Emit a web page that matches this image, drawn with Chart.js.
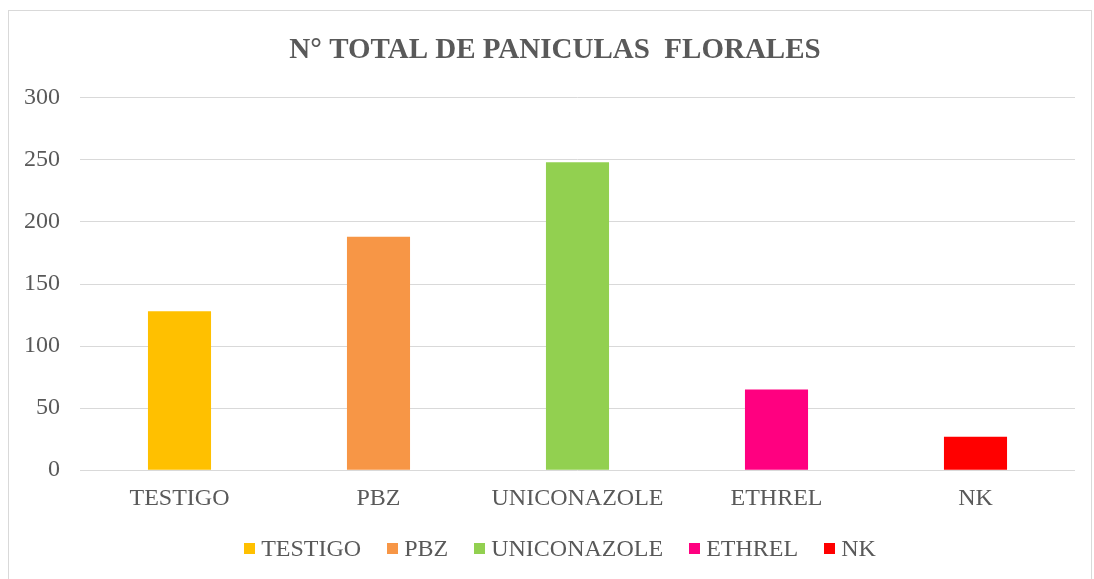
<!DOCTYPE html>
<html>
<head>
<meta charset="utf-8">
<script src="https://cdn.jsdelivr.net/npm/chart.js@4/dist/chart.umd.min.js"></script>
<style>
  body { margin: 0; background: #fff; }
  #wrap { position: relative; width: 1094px; height: 579px; overflow: hidden; }
  #frame { position: absolute; left: 8px; top: 10px; width: 1082px; height: 600px; border: 1px solid #d9d9d9; }
  #chart { position: absolute; left: 0; top: 0; }
  #legend { position: absolute; left: 0; width: 1120px; top: 535px; display: flex; justify-content: center;
            font-family: "Liberation Serif", "Times New Roman", serif; font-size: 24px; color: #595959; }
  .item { display: flex; align-items: center; margin: 0 13px; }
  .box { width: 11px; height: 11px; margin-right: 6px; }
</style>
</head>
<body>
<div id="wrap">
  <div id="frame"></div>
  <canvas id="chart" width="1094" height="579"></canvas>
  <div id="legend"></div>
</div>
<script>
// Chart data
const categories = ['TESTIGO', 'PBZ', 'UNICONAZOLE', 'ETHREL', 'NK'];
const panicleCounts = [128, 188, 248, 65, 27];
const barColors = ['#FFC000', '#F79646', '#92D050', '#FF0080', '#FF0000'];
const yTicks = [0, 50, 100, 150, 200, 250, 300];

const textColor = '#595959';
const fontFamily = '"Liberation Serif", "Times New Roman", serif';

// Build legend from the categories
function buildLegend() {
    const legend = document.getElementById('legend');
    categories.forEach((name, i) => {
        const item = document.createElement('div');
        item.className = 'item';
        const box = document.createElement('span');
        box.className = 'box';
        box.style.background = barColors[i];
        const label = document.createElement('span');
        label.textContent = name;
        item.appendChild(box);
        item.appendChild(label);
        legend.appendChild(item);
    });
}

// let the y tick labels draw left of the (narrowed) axis box
const widenYLabels = {
    id: 'widenYLabels',
    afterLayout(chart) {
        chart.scales.y.left = 0;
    }
};

function initializeChart() {
    const ctx = document.getElementById('chart').getContext('2d');
    new Chart(ctx, {
        type: 'bar',
        data: {
            labels: categories,
            datasets: [{
                label: 'N° total de paniculas florales',
                data: panicleCounts,
                backgroundColor: barColors,
                barPercentage: 0.317,
                categoryPercentage: 1
            }]
        },
        options: {
            responsive: false,
            animation: false,
            layout: {
                padding: { top: 10, left: 35, right: 19, bottom: 52 }
            },
            plugins: {
                legend: { display: false },
                tooltip: { enabled: false },
                title: {
                    display: true,
                    text: 'N° TOTAL DE PANICULAS  FLORALES',
                    color: textColor,
                    font: { family: fontFamily, size: 29, weight: 'bold' },
                    padding: { top: 23, bottom: 30 }
                }
            },
            scales: {
                x: {
                    grid: { display: false, drawTicks: false },
                    border: { display: false },
                    ticks: {
                        color: textColor,
                        font: { family: fontFamily, size: 24 },
                        padding: 14,
                        maxRotation: 0
                    }
                },
                y: {
                    min: 0,
                    max: 300,
                    afterBuildTicks: axis => { axis.ticks = yTicks.map(v => ({ value: v })); },
                    afterFit: axis => { axis.width = 45; },
                    grid: { color: '#d9d9d9', lineWidth: 1, drawTicks: false },
                    border: { display: false },
                    ticks: {
                        color: textColor,
                        font: { family: fontFamily, size: 24 },
                        padding: 20
                    }
                }
            }
        },
        plugins: [widenYLabels]
    });
}

buildLegend();
initializeChart();
</script>
</body>
</html>
